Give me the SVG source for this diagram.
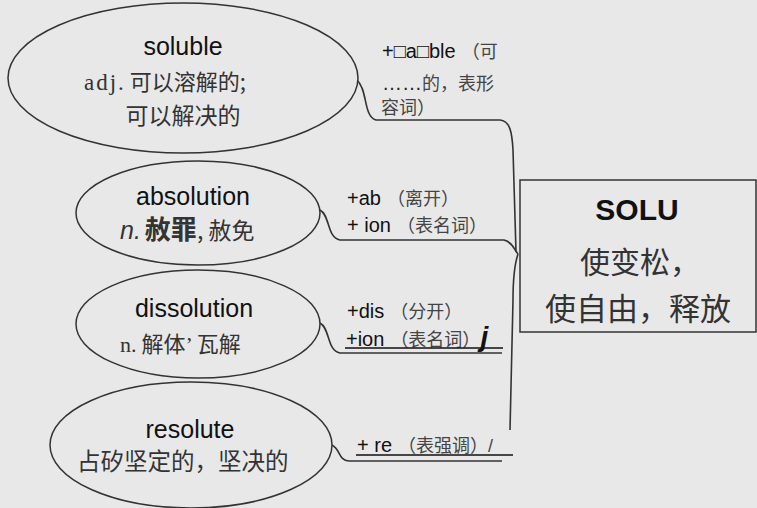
<svg xmlns="http://www.w3.org/2000/svg" width="757" height="508" viewBox="0 0 757 508">
<style>
.node{fill:#e8e8e8;stroke:#333;stroke-width:1.5}
.conn{fill:none;stroke:#333;stroke-width:1.6}
.ul{stroke:#111;stroke-width:1.3}
.en{font-family:"Liberation Sans",Arial,"Noto Sans CJK SC",sans-serif;fill:#111}
.cn{font-family:"Noto Sans CJK SC","Liberation Sans",sans-serif;fill:#333}
.sf{font-family:"Liberation Serif","DejaVu Serif","Noto Sans CJK SC",serif;fill:#333}
.title{font-size:25px;text-anchor:middle}
.lab{font-size:20px}
.labc{font-size:18px;fill:#444}
</style>
<rect width="757" height="508" fill="#e8e8e8"/>
<g id="connectors">
<path class="conn" d="M357,80 C368,90 363,116 376,120 L500,120 C510,121 512,132 513,150 L516,252"/>
<path class="conn" d="M320,210 C330,215 327,238 340,240 L504,240 C512,242 514,249 518,254"/>
<path class="conn" d="M518,254 C514,266 513,284 513,300 L510,430"/>
<path class="conn" d="M320,323 C330,328 327,351 340,353 L502,353"/>
<path class="conn" d="M332,445 C341,450 338,460 349,461 L502,461"/>
</g>
<g id="soluble">
<ellipse class="node" cx="183" cy="78" rx="175" ry="75"/>
<text class="en title" x="183" y="55">soluble</text>
<text x="84" y="90" style="font-size:22px"><tspan class="sf" style="font-size:23px;letter-spacing:2px">adj.</tspan><tspan class="cn" dx="4">可以溶解的;</tspan></text>
<text class="cn" x="183" y="124" style="font-size:23px;text-anchor:middle">可以解决的</text>
</g>
<g id="absolution">
<ellipse class="node" cx="198" cy="213" rx="122" ry="52"/>
<text class="en title" x="193" y="205">absolution</text>
<text x="120" y="239"><tspan class="en" style="font-size:25px;font-style:italic;fill:#333">n.</tspan><tspan class="cn" dx="4" style="font-size:26px;font-weight:bold">赦罪</tspan><tspan class="cn" style="font-size:23px">, 赦免</tspan></text>
</g>
<g id="dissolution">
<ellipse class="node" cx="198" cy="324" rx="122" ry="54"/>
<text class="en title" x="194" y="317">dissolution</text>
<text x="120" y="352" style="font-size:22px"><tspan class="sf">n.</tspan><tspan class="cn" dx="5">解体</tspan><tspan class="sf">’ </tspan><tspan class="cn">瓦解</tspan></text>
</g>
<g id="resolute">
<ellipse class="node" cx="191" cy="445" rx="141" ry="63"/>
<text class="en title" x="190" y="438">resolute</text>
<text class="cn" x="77" y="470" style="font-size:23.5px">占矽坚定的，坚决的</text>
</g>
<g id="solu">
<rect class="node" x="520" y="180" width="236" height="152"/>
<text class="en" x="637" y="220" style="font-size:30px;font-weight:bold;text-anchor:middle">SOLU</text>
<text class="cn" x="640" y="273" style="font-size:30px;text-anchor:middle">使变松，</text>
<text class="cn" x="638" y="320" style="font-size:31px;text-anchor:middle">使自由，释放</text>
</g>
<g id="labels">
<text x="382" y="58"><tspan class="en lab">+□a□ble</tspan><tspan class="cn labc" dx="6">（可</tspan></text>
<text x="382" y="90"><tspan class="en lab" style="fill:#222">……</tspan><tspan class="cn labc">的，表形</tspan></text>
<text class="cn labc" x="381" y="114">容词）</text>
<text x="347" y="205"><tspan class="en lab">+ab</tspan><tspan class="cn labc" dx="6">（离开）</tspan></text>
<text x="347" y="232"><tspan class="en lab">+ ion</tspan><tspan class="cn labc" dx="6">（表名词）</tspan></text>
<text x="347" y="318"><tspan class="en lab">+dis</tspan><tspan class="cn labc" dx="6">（分开）</tspan></text>
<text x="346" y="346"><tspan class="en lab">+ion</tspan><tspan class="cn labc" dx="6">（表名词）</tspan><tspan class="en" style="font-size:28px;font-style:italic;font-weight:bold">j</tspan></text>
<line class="ul" x1="345" y1="348" x2="503" y2="348"/>
<text x="357" y="452"><tspan class="en lab">+ re</tspan><tspan class="cn labc" dx="6">（表强调）</tspan><tspan class="en labc">/</tspan></text>
<line class="ul" x1="356" y1="455" x2="513" y2="455"/>
</g>
</svg>
